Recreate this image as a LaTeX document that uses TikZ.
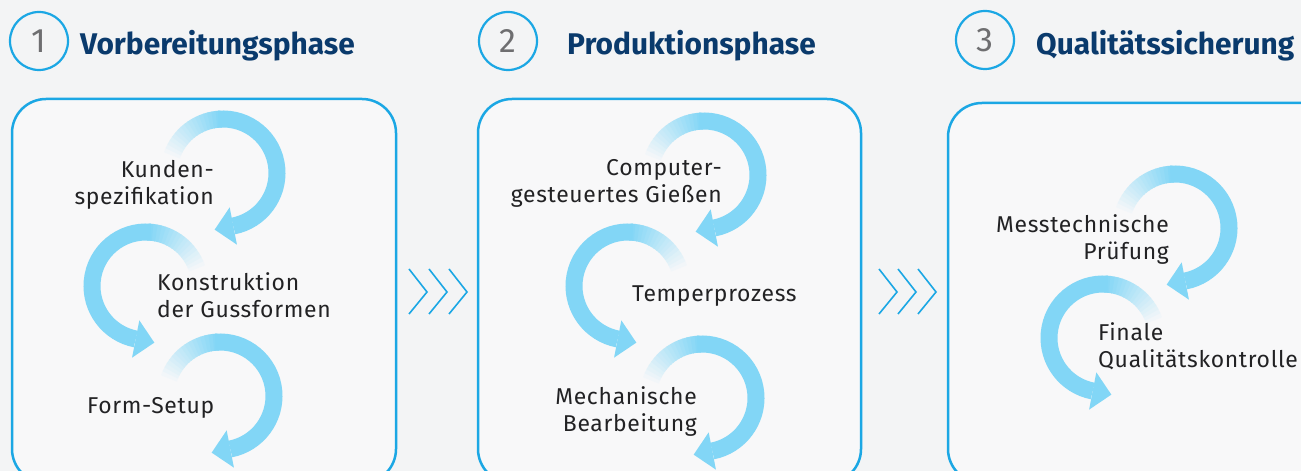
\documentclass[tikz,border=0pt]{standalone}
\usepackage{fontspec}
\setmainfont{Fira Sans}
\newfontfamily\labelfont[LetterSpace=3]{Fira Sans}
\usetikzlibrary{calc}
\definecolor{bgcol}{RGB}{243,244,245}
\definecolor{boxbg}{RGB}{248,248,249}
\definecolor{framecol}{RGB}{27,167,228}
\definecolor{arcblue}{RGB}{130,214,246}
\definecolor{headcol}{RGB}{10,58,108}
\definecolor{numcol}{RGB}{110,110,112}
\definecolor{txtcol}{RGB}{34,34,36}
\tikzset{
  phasebox/.style={draw=framecol, line width=2.5bp, fill=boxbg, rounded corners=34bp},
  numring/.style={circle, draw=framecol, line width=2.2bp, minimum size=58bp, inner sep=0pt,
    text=numcol, font=\fontsize{34}{34}\selectfont},
  phasetitle/.style={anchor=base west, inner sep=0pt, text=headcol,
    font=\fontsize{30}{30}\selectfont\bfseries},
  steptext/.style={inner sep=0pt, text=txtcol, font=\labelfont\fontsize{23}{28}\selectfont},
  chevron/.style={draw=framecol, line width=1.6bp},
  arcline/.style={draw=arcblue, line width=17bp},
}
% curl arrow: #1,#2 centre, #3 = 1 (clockwise) or -1 (mirrored)
\newcommand{\curlarrow}[3]{%
  \begin{scope}[shift={(#1,#2)}, xscale=#3]
    \foreach \a in {165,161,...,97}
      {\pgfmathtruncatemacro{\p}{(165-\a)*100/70}
       \draw[arcline, draw=arcblue!\p!boxbg] (\a:54) arc[start angle=\a, end angle=\a-5, radius=54];}
    \draw[arcline] (95:54) arc[start angle=95, end angle=-79, radius=54];
    \fill[arcblue, rotate=-79] (35,0) -- (73,0) -- (54,-19) -- cycle;
  \end{scope}}

\begin{document}
\begin{tikzpicture}[x=1bp,y=1bp]
  \useasboundingbox (0,0) rectangle (1301,471);
  \clip (0,0) rectangle (1301,471);
  \fill[bgcol] (0,0) rectangle (1301,471);
%%
  % Phase 1
  \node[numring] (num1) at (39,430) {1};
  \node[phasetitle] (title1) at (80,416) {Vorbereitungsphase};
  \draw[phasebox] (12,-12) rectangle (396,372);
  \curlarrow{223}{298}{1}
  \curlarrow{146}{185}{-1}
  \curlarrow{220}{75}{1}
  \node[steptext, align=right, anchor=base east] (kunden) at (214,266) {Kunden-\\spezifikation};
  \node[steptext, align=left, anchor=base west] (konstr) at (157,153) {Konstruktion\\der Gussformen};
  \node[steptext, anchor=base west] (setup) at (87,57) {Form-Setup};
  % Phase 2
  \node[numring] (num2) at (508,430) {2};
  \node[phasetitle] (title2) at (567,416) {Produktionsphase};
  \draw[phasebox] (478,-12) rectangle (861,372);
  \curlarrow{704}{296}{1}
  \curlarrow{628}{185}{-1}
  \curlarrow{702}{73}{1}
  \node[steptext, align=right, anchor=base east] (giessen) at (722,268) {Computer-\\gesteuertes Gießen};
  \node[steptext, anchor=base west] (temper) at (632,169) {Temperprozess};
  \node[steptext, align=right, anchor=base east] (mechan) at (697,39) {Mechanische\\Bearbeitung};
  % Phase 3
  \node[numring] (num3) at (985,431) {3};
  \node[phasetitle] (title3) at (1036,416) {Qualitätssicherung};
  \draw[phasebox] (948,-12) rectangle (1340,368);
  \curlarrow{1175}{243}{1}
  \curlarrow{1103}{133}{-1}
  \node[steptext, align=right, anchor=base east] (pruefung) at (1169,211) {Messtechnische\\Prüfung};
  \node[steptext, align=left, anchor=base west] (kontrolle) at (1098,103) {Finale\\Qualitätskontrolle};
  % Chevrons between phases
  \foreach \cx in {409,429,449,879,898,918}
    \draw[chevron] (\cx,202) -- (\cx+18,179) -- (\cx,157);
%
\end{tikzpicture}
\end{document}
